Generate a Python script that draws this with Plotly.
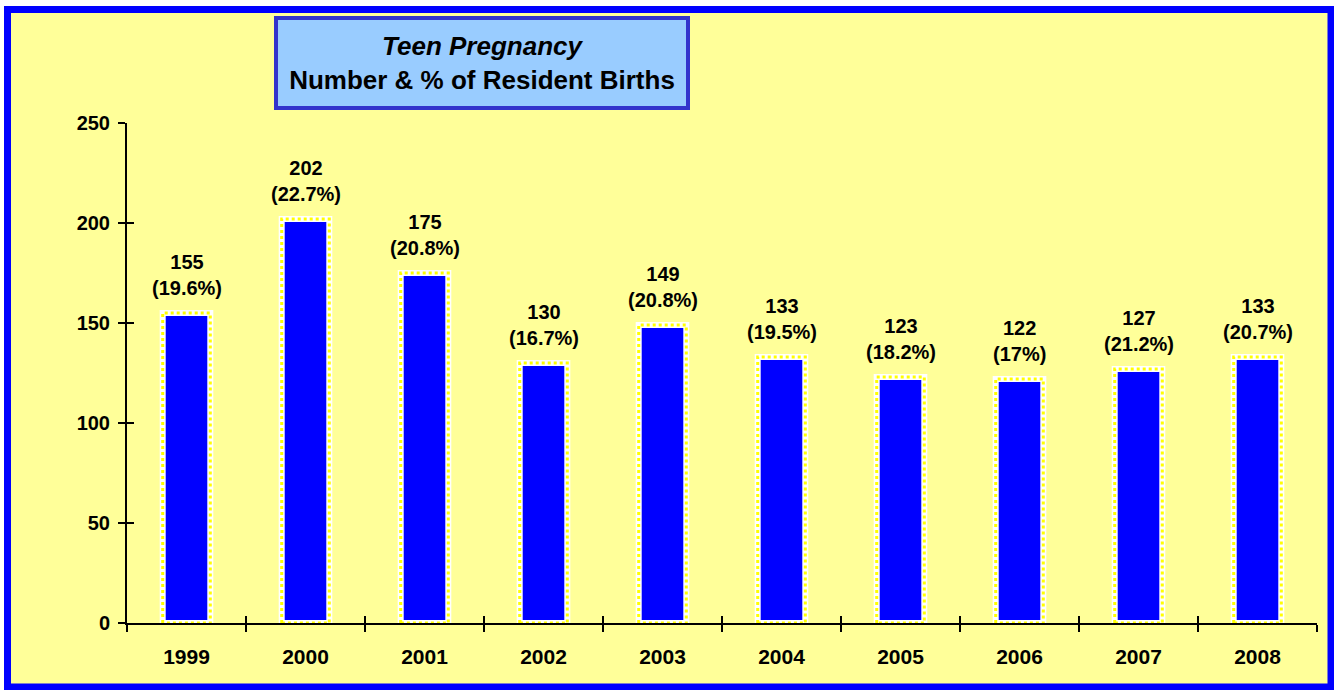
import plotly.graph_objects as go

# ---- data ----
years = ["1999", "2000", "2001", "2002", "2003", "2004", "2005", "2006", "2007", "2008"]
births = [155, 202, 175, 130, 149, 133, 123, 122, 127, 133]
pct_labels = ["19.6%", "22.7%", "20.8%", "16.7%", "20.8%", "19.5%", "18.2%", "17%", "21.2%", "20.7%"]
y_ticks = [0, 50, 100, 150, 200, 250]

# ---- layout constants ----
W, H = 1334, 690
ML, MR, MT, MB = 127, 17, 123, 67
PW, PH = W - ML - MR, H - MT - MB
BAR_W = 0.40
FONT = "Liberation Sans, Arial, sans-serif"


def px_x(p):
    return (p - ML) / PW


def px_y(p):
    return (H - MB - p) / PH


pos = list(range(len(years)))
bounds = [p - 0.5 for p in pos] + [pos[-1] + 0.5]

fig = go.Figure()
fig.add_trace(go.Bar(
    x=pos, y=births, width=BAR_W,
    marker=dict(color="#0000FF", line=dict(color="#FFFFFF", width=6)),
    hoverinfo="skip", showlegend=False,
))

# dotted yellow outline of each bar, built from the data
ox, oy = [], []
for p, v in zip(pos, births):
    l, r = p - BAR_W / 2, p + BAR_W / 2
    ox += [l, l, r, r, l, None]
    oy += [0, v, v, 0, 0, None]
fig.add_trace(go.Scatter(
    x=ox, y=oy, mode="lines",
    line=dict(color="#FFFF00", width=3, dash="dot"),
    hoverinfo="skip", showlegend=False,
))

# dummy traces for overlay axes (crossing tick marks and labels)
fig.add_trace(go.Scatter(x=[None], y=[None], xaxis="x2", yaxis="y", showlegend=False, hoverinfo="skip"))
fig.add_trace(go.Scatter(x=[None], y=[None], xaxis="x3", yaxis="y", showlegend=False, hoverinfo="skip"))
fig.add_trace(go.Scatter(x=[None], y=[None], xaxis="x", yaxis="y2", showlegend=False, hoverinfo="skip"))

# data labels
for p, v, pc in zip(pos, births, pct_labels):
    fig.add_annotation(
        x=p, y=v, text=f"<b>{v}<br>({pc})</b>", showarrow=False,
        yanchor="bottom", yshift=12,
        font=dict(family=FONT, size=20, color="black"),
    )

# title box
fig.add_annotation(
    xref="paper", yref="paper", x=px_x(482), y=px_y(63),
    xanchor="center", yanchor="middle", showarrow=False,
    text="<b><i>Teen Pregnancy</i><br>Number & % of Resident Births</b>",
    font=dict(family=FONT, size=26, color="black"),
    bgcolor="#99CCFF", bordercolor="#3333CC", borderwidth=4, borderpad=0,
    width=408, height=86,
)

# outer border
fig.add_shape(
    type="rect", xref="paper", yref="paper", layer="below",
    x0=px_x(7.5), x1=px_x(1331), y0=px_y(687), y1=px_y(9.5),
    line=dict(color="#0000FF", width=7), fillcolor="#FFFF99",
)

axis_common = dict(showgrid=False, zeroline=False)
fig.update_layout(
    width=W, height=H, autosize=False,
    margin=dict(l=ML, r=MR, t=MT, b=MB, pad=0),
    paper_bgcolor="#FFFFFF", plot_bgcolor="rgba(0,0,0,0)",
    showlegend=False, hovermode=False,
    font=dict(family=FONT, color="black"),
    xaxis=dict(
        range=[-0.5, len(years) - 0.5], tickmode="array", tickvals=bounds,
        ticktext=["" for _ in bounds], ticks="outside", ticklen=7, tickwidth=2,
        tickcolor="black", showline=True, linecolor="black", linewidth=2,
        **axis_common,
    ),
    xaxis2=dict(
        overlaying="x", anchor="y", range=[-0.5, len(years) - 0.5],
        tickmode="array", tickvals=bounds, ticktext=["" for _ in bounds],
        ticks="inside", ticklen=7, tickwidth=2, tickcolor="black",
        showline=False, showticklabels=False, **axis_common,
    ),
    xaxis3=dict(
        overlaying="x", anchor="y", range=[-0.5, len(years) - 0.5],
        tickmode="array", tickvals=pos, ticktext=[f"<b>{y}</b>" for y in years],
        ticks="", showline=False, ticklabelstandoff=19,
        tickfont=dict(family=FONT, size=21, color="black"), **axis_common,
    ),
    yaxis=dict(
        range=[0, 250], tickmode="array", tickvals=y_ticks,
        ticktext=[f"<b>{t}</b>" for t in y_ticks],
        ticks="outside", ticklen=7, tickwidth=2, tickcolor="black",
        showline=True, linecolor="black", linewidth=2, ticklabelstandoff=4,
        tickfont=dict(family=FONT, size=20, color="black"), **axis_common,
    ),
    yaxis2=dict(
        overlaying="y", anchor="x", range=[0, 250], tickmode="array",
        tickvals=y_ticks, ticks="inside", ticklen=7, tickwidth=2, tickcolor="black",
        showline=False, showticklabels=False, **axis_common,
    ),
)

fig.write_html(
    "out.html",
    config={"displayModeBar": False, "staticPlot": True},
    post_script="document.body.style.margin='0';",
)
